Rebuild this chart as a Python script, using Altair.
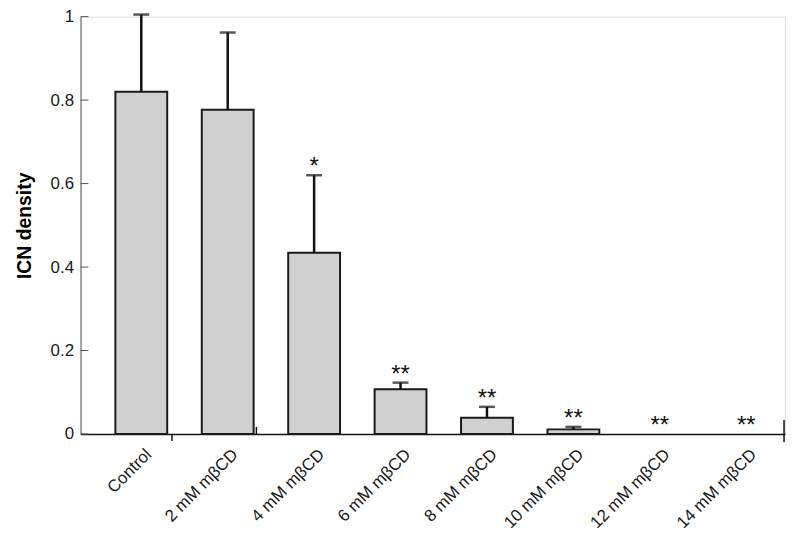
import altair as alt
import pandas as pd

categories = ["Control", "2 mM mβCD", "4 mM mβCD", "6 mM mβCD",
              "8 mM mβCD", "10 mM mβCD", "12 mM mβCD", "14 mM mβCD"]
means = [0.820, 0.777, 0.434, 0.107, 0.039, 0.011, 0.0, 0.0]
upper = [1.005, 0.962, 0.620, 0.123, 0.065, 0.017, 0.0, 0.0]
stars = ["", "", "*", "**", "**", "**", "**", "**"]
y_ticks = [0, 0.2, 0.4, 0.6, 0.8, 1.0]

df = pd.DataFrame({"cat": categories, "mean": means, "upper": upper, "star": stars})
bars_df = df[df["mean"] > 0]
stars_df = df[df["star"] != ""]
ticks_df = pd.DataFrame({"v": y_ticks})

FONT = "Liberation Sans"
W, H = 709, 420

xscale = alt.Scale(domain=categories, paddingInner=0.4, paddingOuter=0.276, align=0.73)
yscale = alt.Scale(domain=[0, 1], nice=False)

x_enc = alt.X("cat:N", scale=xscale, sort=categories,
              axis=alt.Axis(title=None, labelAngle=-45, labelAlign="right", labelBaseline="top"))

bars = alt.Chart(bars_df).mark_bar(fill="#d0d0d0", stroke="#1a1a1a", strokeWidth=2).encode(
    x=x_enc,
    y=alt.Y("mean:Q", scale=yscale,
            axis=alt.Axis(title="ICN density", values=y_ticks, format="~g")),
)

err = alt.Chart(bars_df).mark_rule(color="#111111", strokeWidth=2.5).encode(
    x=alt.X("cat:N", scale=xscale, sort=categories),
    y=alt.Y("mean:Q", scale=yscale),
    y2="upper:Q",
)

caps = alt.Chart(bars_df).mark_tick(color="#111111", thickness=2.5, size=16, orient="horizontal").encode(
    x=alt.X("cat:N", scale=xscale, sort=categories),
    y=alt.Y("upper:Q", scale=yscale),
)

star_text = alt.Chart(stars_df).mark_text(fontSize=24, font=FONT, color="#111111",
                                          baseline="alphabetic", dy=-1).encode(
    x=alt.X("cat:N", scale=xscale, sort=categories),
    y=alt.Y("upper:Q", scale=yscale),
    text="star:N",
)

yticks = alt.Chart(ticks_df).mark_rule(color="#555555", strokeWidth=1).encode(
    y=alt.Y("v:Q", scale=yscale),
    x=alt.value(0),
    x2=alt.value(8),
)

end_tick = alt.Chart(ticks_df.head(1)).mark_rule(color="#111111", strokeWidth=1.5).encode(
    x=alt.value(W - 1), y=alt.value(H - 14), y2=alt.value(H + 8))
small_tick1 = alt.Chart(ticks_df.head(1)).mark_rule(color="#111111", strokeWidth=1.5).encode(
    x=alt.value(92), y=alt.value(H), y2=alt.value(H + 7))
small_tick2 = alt.Chart(ticks_df.head(1)).mark_rule(color="#111111", strokeWidth=1.5).encode(
    x=alt.value(177), y=alt.value(H - 7), y2=alt.value(H + 1))

chart = alt.layer(bars, err, caps, star_text, yticks, end_tick, small_tick1, small_tick2).properties(
    width=W, height=H,
    autosize=alt.AutoSizeParams(type="none"),
    padding={"left": 73, "top": 7, "right": 5, "bottom": 103},
).configure_view(stroke=None).configure(background="white").configure_axis(
    labelFont=FONT, labelColor="#1a1a1a", ticks=False, grid=False,
    titleFont=FONT, titleColor="#000000",
).configure_axisX(
    labelFontSize=17, labelPadding=12, labelOffset=2, domainColor="#111111", domainWidth=1.5,
).configure_axisY(
    labelFontSize=17, labelPadding=7, titleFontSize=19.5, titleFontWeight="bold",
    titlePadding=16, domainColor="#555555", domainWidth=1,
)

chart.save("out.html", embed_options={"renderer": "svg", "actions": False})
